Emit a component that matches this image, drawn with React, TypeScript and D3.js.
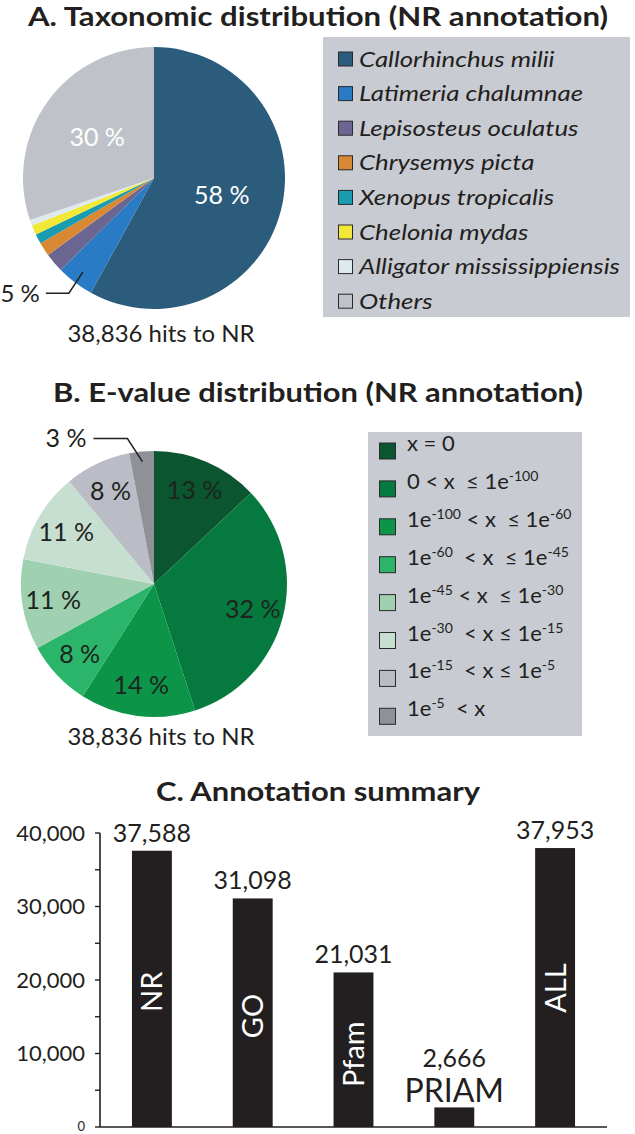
import React, { useEffect } from 'react';
import * as d3 from 'd3';

const W = 635;
const H = 1134;
const FONT = 'Lato, "Open Sans", sans-serif';
const INK = '#231f20';

// A. Taxonomic distribution
const taxa = [
  'Callorhinchus milii',
  'Latimeria chalumnae',
  'Lepisosteus oculatus',
  'Chrysemys picta',
  'Xenopus tropicalis',
  'Chelonia mydas',
  'Alligator mississippiensis',
  'Others',
];
const taxaShare = [58, 4.6, 2.4, 1.7, 1.2, 1.2, 0.7, 30.2];
const taxaColors = ['#2b5c7c', '#2a7bc5', '#6b6592', '#d98934', '#1a9bb0', '#f2e838', '#dfeaee', '#bfc2c9'];
const taxaLabels = ['58 %', '5 %', '', '', '', '', '', '30 %'];

const hitsNote = '38,836 hits to NR';

// B. E-value distribution
type Seg = { t: string; sup?: boolean };
const eBins: Seg[][] = [
  [{ t: 'x = 0' }],
  [{ t: '0 < x  \u2264 1e' }, { t: '-100', sup: true }],
  [{ t: '1e' }, { t: '-100', sup: true }, { t: ' < x  \u2264 1e' }, { t: '-60', sup: true }],
  [{ t: '1e' }, { t: '-60', sup: true }, { t: '  < x  \u2264 1e' }, { t: '-45', sup: true }],
  [{ t: '1e' }, { t: '-45', sup: true }, { t: ' < x  \u2264 1e' }, { t: '-30', sup: true }],
  [{ t: '1e' }, { t: '-30', sup: true }, { t: '  < x \u2264 1e' }, { t: '-15', sup: true }],
  [{ t: '1e' }, { t: '-15', sup: true }, { t: '  < x \u2264 1e' }, { t: '-5', sup: true }],
  [{ t: '1e' }, { t: '-5', sup: true }, { t: '  < x' }],
];
const eShare = [13, 32, 14, 8, 11, 11, 8, 3];
const eColors = ['#0b5530', '#067a3e', '#0c9448', '#2bb56b', '#9fd1b1', '#c7dfd1', '#babdc6', '#8e9297'];
const eLabels = ['13 %', '32 %', '14 %', '8 %', '11 %', '11 %', '8 %', '3 %'];

// C. Annotation summary
const dbs = ['NR', 'GO', 'Pfam', 'PRIAM', 'ALL'];
const dbHits = [37588, 31098, 21031, 2666, 37953];
const yTicks = [0, 10000, 20000, 30000, 40000];
const yMinorTicks = [5000, 15000, 25000, 35000];

const LEGEND_BG = '#c8cbd2';
const fmt = d3.format(',');

const pieGen = d3.pie<number>().sort(null).value(d => d);

function ringAt(r: number) {
  return d3.arc<d3.PieArcDatum<number>>().innerRadius(r).outerRadius(r);
}

// bold panel heading, stretched to the width it has in the figure
const Title: React.FC<{ y: number; width: number; children: string }> = ({ y, width, children }) => (
  <text
    x={318 - width / 2}
    y={y}
    fontSize={27}
    fontWeight={700}
    fill={INK}
    textLength={width}
    lengthAdjust="spacingAndGlyphs"
  >
    {children}
  </text>
);

const App: React.FC = () => {
  useEffect(() => {
    document.body.style.margin = '0';
  }, []);

  // pie A
  const aC = { x: 154, y: 178 };
  const aR = 131;
  const aArcs = pieGen(taxaShare);
  const aArc = d3.arc<d3.PieArcDatum<number>>().innerRadius(0).outerRadius(aR);
  const aLab = ringAt(70);
  const aLead = ringAt(118).centroid(aArcs[1]);
  const aElbow = [aLead[0] - 14, aLead[1] + 21];

  // pie B
  const bC = { x: 154, y: 584 };
  const bR = 133;
  const bArcs = pieGen(eShare);
  const bArc = d3.arc<d3.PieArcDatum<number>>().innerRadius(0).outerRadius(bR);
  const bLab = ringAt(102);
  const bLead = ringAt(123).centroid(bArcs[7]);
  const bElbow = [bLead[0] - 15, bLead[1] - 23];

  // bars
  const x = d3.scaleBand<string>().domain(dbs).range([100, 607]).paddingInner(0.604).paddingOuter(0.317);
  const y = d3.scaleLinear().domain([0, 40000]).range([1127, 833]);
  // where the rotated names sit inside each bar (value units)
  const innerNameAt = [18400, 15100, 9900, 0, 18900];

  return (
    <svg width={W} height={H} style={{ position: 'absolute', left: 0, top: 0, fontFamily: FONT }}>
      <rect width={W} height={H} fill="#fff" />

      {/* ---------- A ---------- */}
      <Title y={26} width={580}>A. Taxonomic distribution (NR annotation)</Title>
      <g transform={`translate(${aC.x},${aC.y})`}>
        {aArcs.map((d, i) => (
          <path key={i} d={aArc(d) || ''} fill={taxaColors[i]} />
        ))}
        {[0, 7].map(i => {
          const [lx, ly] = aLab.centroid(aArcs[i]);
          return (
            <text key={i} x={lx} y={ly} dy="0.35em" textAnchor="middle" fontSize={25} fill="#fff">
              {taxaLabels[i]}
            </text>
          );
        })}
        <polyline
          points={`${aLead[0]},${aLead[1]} ${aElbow[0]},${aElbow[1]} ${aElbow[0] - 23},${aElbow[1]}`}
          fill="none"
          stroke={INK}
          strokeWidth={1.5}
        />
        <text x={aElbow[0] - 29} y={aElbow[1]} dy="0.35em" textAnchor="end" fontSize={24} fill={INK}>
          {taxaLabels[1]}
        </text>
      </g>
      <text x={161} y={342} textAnchor="middle" fontSize={24} fill={INK}>
        {hitsNote}
      </text>

      <rect x={323} y={37} width={307} height={280} fill={LEGEND_BG} />
      {taxa.map((t, i) => {
        const cy = 59 + i * 34.6;
        return (
          <g key={t}>
            <rect x={338.5} y={cy - 7} width={14} height={14} fill={taxaColors[i]} stroke="#2a2a2a" strokeWidth={1} />
            <text
              transform={`translate(359,${cy}) scale(1.23,1)`}
              dy="0.36em"
              fontSize={21}
              fontStyle="italic"
              fill={INK}
            >
              {t}
            </text>
          </g>
        );
      })}

      {/* ---------- B ---------- */}
      <Title y={402} width={530}>B. E-value distribution (NR annotation)</Title>
      <g transform={`translate(${bC.x},${bC.y})`}>
        {bArcs.map((d, i) => (
          <path key={i} d={bArc(d) || ''} fill={eColors[i]} />
        ))}
        {bArcs.slice(0, 7).map((d, i) => {
          const [lx, ly] = bLab.centroid(d);
          return (
            <text key={i} x={lx} y={ly} dy="0.35em" textAnchor="middle" fontSize={25} fill="#1c2420">
              {eLabels[i]}
            </text>
          );
        })}
        <polyline
          points={`${bLead[0]},${bLead[1]} ${bElbow[0]},${bElbow[1]} ${bElbow[0] - 34},${bElbow[1]}`}
          fill="none"
          stroke={INK}
          strokeWidth={1.5}
        />
        <text x={bElbow[0] - 41} y={bElbow[1]} dy="0.35em" textAnchor="end" fontSize={25} fill={INK}>
          {eLabels[7]}
        </text>
      </g>
      <text x={161} y={745} textAnchor="middle" fontSize={24} fill={INK}>
        {hitsNote}
      </text>

      <rect x={368} y={432} width={214} height={304} fill={LEGEND_BG} />
      {eBins.map((segs, i) => {
        const cy = 451 + i * 37.9;
        let shift = 0;
        return (
          <g key={i}>
            <rect x={379.5} y={cy - 8} width={16} height={16} fill={eColors[i]} stroke="#2a2a2a" strokeWidth={1} />
            <text x={407} y={cy} dy="0.36em" fontSize={22} fill={INK} style={{ whiteSpace: 'pre' }}>
              {segs.map((s, j) => {
                const dy = s.sup ? -8 - shift : -shift;
                shift = s.sup ? -8 : 0;
                return (
                  <tspan key={j} dy={dy} fontSize={s.sup ? 14 : 22}>
                    {s.t}
                  </tspan>
                );
              })}
            </text>
          </g>
        );
      })}

      {/* ---------- C ---------- */}
      <Title y={801} width={324}>C. Annotation summary</Title>
      {dbs.map((name, i) => {
        const bx = x(name) as number;
        const bw = x.bandwidth();
        const top = y(dbHits[i]);
        const cx = bx + bw / 2;
        const isSmall = name === 'PRIAM';
        return (
          <g key={name}>
            <rect x={bx} y={top} width={bw} height={y(0) - top} fill={INK} />
            {isSmall ? (
              <>
                <text x={cx} y={top - 5} textAnchor="middle" fontSize={32} fill={INK}>
                  {name}
                </text>
                <text x={cx} y={top - 40} textAnchor="middle" fontSize={25} fill={INK}>
                  {fmt(dbHits[i])}
                </text>
              </>
            ) : (
              <>
                <text x={cx} y={top - 9} textAnchor="middle" fontSize={25} fill={INK}>
                  {fmt(dbHits[i])}
                </text>
                <text
                  transform={`translate(${cx},${y(innerNameAt[i])}) rotate(-90)`}
                  dy="0.36em"
                  textAnchor="middle"
                  fontSize={29}
                  fill="#fff"
                >
                  {name}
                </text>
              </>
            )}
          </g>
        );
      })}
      {/* axes */}
      <line x1={100} x2={100} y1={y(40000)} y2={y(0)} stroke={INK} strokeWidth={1.6} />
      <line x1={100} x2={607} y1={y(0)} y2={y(0)} stroke={INK} strokeWidth={1.6} />
      {yTicks.concat(yMinorTicks).map(v => (
        <line key={v} x1={95} x2={100} y1={y(v)} y2={y(v)} stroke={INK} strokeWidth={1.4} />
      ))}
      {yTicks.map(v =>
        v === 0 ? (
          <text key={v} x={85} y={y(v) + 4} textAnchor="end" fontSize={13} fill={INK}>
            0
          </text>
        ) : (
          <text key={v} x={85} y={y(v)} dy="0.36em" textAnchor="end" fontSize={22} fill={INK}>
            {fmt(v)}
          </text>
        )
      )}
    </svg>
  );
};

export default App;
